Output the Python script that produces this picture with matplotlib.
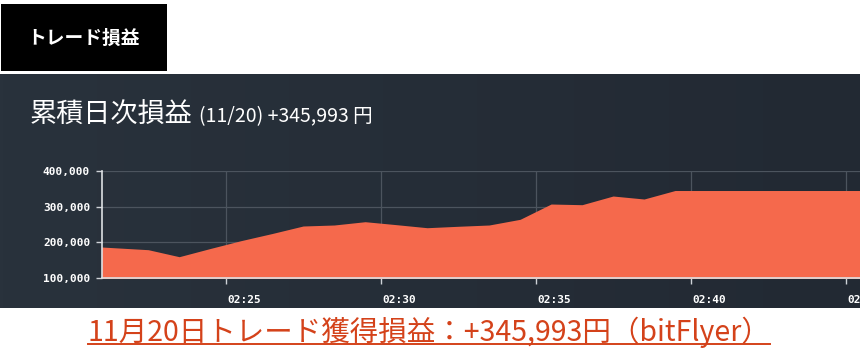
import numpy as np
import pandas as pd
import matplotlib
matplotlib.use("Agg")
import matplotlib.pyplot as plt
import matplotlib.dates as mdates
from matplotlib.ticker import FuncFormatter, FixedLocator
from matplotlib.patches import Rectangle
from matplotlib.lines import Line2D
import matplotlib.transforms as mtransforms

# ---- data ----
times = ["02:20:30", "02:21:30", "02:22:30", "02:23:30", "02:24:30", "02:25:30",
         "02:26:30", "02:27:30", "02:28:30", "02:29:30", "02:30:30", "02:31:30",
         "02:32:30", "02:33:30", "02:34:30", "02:35:30", "02:36:30", "02:37:30",
         "02:38:30", "02:39:30", "02:40:30", "02:41:30", "02:42:30", "02:43:30",
         "02:44:30", "02:45:30"]
pnl = [189700, 184600, 179600, 159900, 182900, 205100,
       225100, 246200, 249000, 258300, 250000, 241400,
       245400, 249000, 265000, 308000, 306100, 330500,
       322100, 345993, 345993, 345993, 345993, 345993,
       345993, 345993]
y_ticks = [100000, 200000, 300000, 400000]
x_ticks = ["02:25", "02:30", "02:35", "02:40", "02:45"]
x_range = ["02:21:00", "02:45:28"]

tab_label = "トレード損益"
title_main = "累積日次損益"
title_sub = "(11/20) +345,993 円"
footer = "11月20日トレード獲得損益：+345,993円（bitFlyer）"

DAY = "2018-11-20 "
def to_num(t):
    return mdates.date2num(pd.to_datetime(DAY + t))

W, H = 860, 349
fig = plt.figure(figsize=(W / 100, H / 100), dpi=100)
fig.patch.set_facecolor("white")

def fx(px):
    return px / W
def fy(py):
    return 1 - py / H

CJK = ["Noto Sans CJK JP", "DejaVu Sans"]

# top black tab
fig.patches.append(Rectangle((fx(1), fy(71)), fx(166), 67 / H, transform=fig.transFigure,
                             facecolor="black", edgecolor="none", zorder=0))
fig.text(fx(84), fy(38), tab_label, color="white", fontsize=13.5, fontweight="bold",
         family=CJK, ha="center", va="center")

# dark panel with gradient
bg = fig.add_axes([0, fy(308), 1, (308 - 74) / H], zorder=0)
grad = np.linspace(0, 1, 256)
c0 = np.array([0x29, 0x32, 0x3c]) / 255
c1 = np.array([0x22, 0x29, 0x33]) / 255
img = (c0[None, None, :] * (1 - grad)[None, :, None] + c1[None, None, :] * grad[None, :, None])
bg.imshow(img, aspect="auto", extent=[0, 1, 0, 1])
bg.set_axis_off()

# title
fig.text(fx(30), fy(123), title_main, color="white", fontsize=19.5,
         family=CJK, va="baseline")
fig.text(fx(199), fy(122), title_sub, color="white", fontsize=14,
         family=CJK, va="baseline")

# main axes
ax = fig.add_axes([fx(101.7), fy(278), 1 - fx(101.7), (278 - 171.3) / H], zorder=1)
ax.set_facecolor("none")
xs = [to_num(t) for t in times]
ax.fill_between(xs, 0, pnl, color="#f5694c", linewidth=0, zorder=2)
ax.set_xlim(to_num(x_range[0]), to_num(x_range[1]))
ax.set_ylim(y_ticks[0], y_ticks[-1])

ax.yaxis.set_major_locator(FixedLocator(y_ticks))
ax.yaxis.set_major_formatter(FuncFormatter(lambda v, p: f"{int(v):,}"))
ax.xaxis.set_major_locator(FixedLocator([to_num(t + ":00") for t in x_ticks]))
ax.xaxis.set_major_formatter(mdates.DateFormatter("%H:%M"))

ax.grid(True, color="#4c545e", linewidth=0.9, zorder=1)
ax.set_axisbelow(True)
for s in ["top", "right"]:
    ax.spines[s].set_visible(False)
for s in ["left", "bottom"]:
    ax.spines[s].set_color("#dde0e3")
    ax.spines[s].set_linewidth(1.2)
    ax.spines[s].set_zorder(3)

ax.tick_params(axis="both", direction="out", length=4.3, width=1, color="#cfd3d8",
               labelcolor="white", labelsize=8)
ax.tick_params(axis="y", pad=4)
ax.tick_params(axis="x", pad=8)
for lab in ax.get_yticklabels() + ax.get_xticklabels():
    lab.set_family("DejaVu Sans Mono")
    lab.set_fontweight("bold")
offset = mtransforms.ScaledTranslation(2 / 100, 0, fig.dpi_scale_trans)
for lab in ax.get_xticklabels():
    lab.set_horizontalalignment("left")
    lab.set_transform(lab.get_transform() + offset)

# footer
fcol = "#d4421a"
ft = fig.text(fx(88), fy(341), footer, color=fcol, fontsize=20.5,
              family=CJK, va="baseline")
fig.lines.append(Line2D([fx(88), fx(770)], [fy(344), fy(344)], transform=fig.transFigure,
                        color=fcol, linewidth=1.4))

fig.savefig("out.png", dpi=100, facecolor="white")
